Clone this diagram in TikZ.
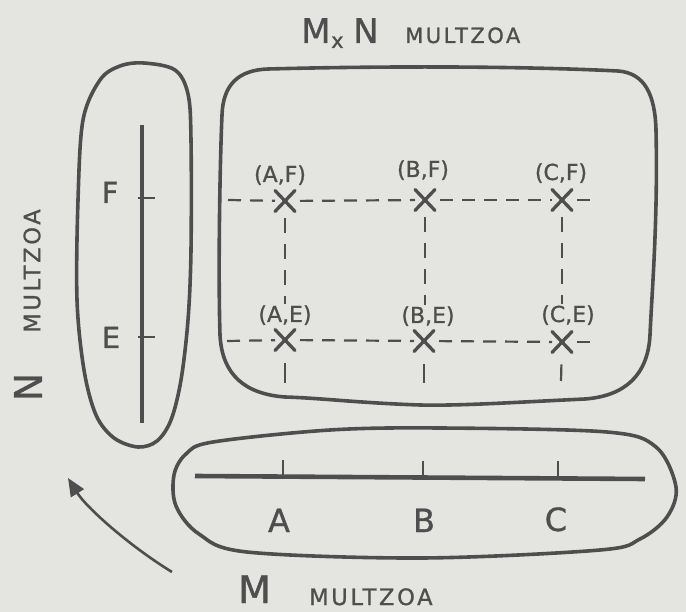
\documentclass[tikz,border=0pt]{standalone}
\usepackage{fontspec}
\setmainfont{DejaVu Sans}
\newfontfamily\inkf[FakeBold=1]{DejaVu Sans}
\newfontfamily\spaced[LetterSpace=12,FakeBold=1]{DejaVu Sans}
\usetikzlibrary{arrows.meta,shapes.misc}
\definecolor{ink}{RGB}{78,78,78}
\definecolor{paper}{RGB}{228,228,225}
\tikzset{
  outline/.style={draw=ink, line width=3.6pt, line join=round},
  axisline/.style={draw=ink, line width=4pt},
  tickline/.style={draw=ink, line width=2pt},
  hdashes/.style={draw=ink, line width=2.2pt, dash pattern=on 13pt off 9pt, dash phase=17pt},
  vdashes/.style={draw=ink, line width=2.2pt, dash pattern=on 15pt off 11pt, dash phase=19pt},
  xpt/.style={cross out, draw=ink, line width=3.3pt, line cap=round, minimum width=14pt, minimum height=15pt, inner sep=0pt, outer sep=3pt},
  pairlbl/.style={text=ink, font=\inkf\fontsize{22}{22}\selectfont, inner sep=1pt, anchor=base},
  biglbl/.style={text=ink, font=\inkf\fontsize{34}{34}\selectfont, inner sep=0pt},
  hugelbl/.style={text=ink, font=\inkf\fontsize{38}{38}\selectfont, inner sep=0pt},
  setlbl/.style={text=ink, font=\spaced\fontsize{21}{21}\selectfont, inner sep=0pt},
  setlblb/.style={text=ink, font=\spaced\fontsize{22.5}{22.5}\selectfont, inner sep=0pt},
  axlbl/.style={text=ink, font=\inkf\fontsize{29}{29}\selectfont, inner sep=0pt, anchor=base},
  ablbl/.style={text=ink, font=\inkf\fontsize{32}{32}\selectfont, inner sep=0pt, anchor=base},
  arrowline/.style={draw=ink, line width=2.6pt, -{Triangle[length=18pt,width=15pt]}}
}
\begin{document}
\begin{tikzpicture}[x=1pt,y=-1pt]
\fill[paper] (0,0) rectangle (686,612);
\useasboundingbox (0,0) rectangle (686,612);

% title
\node[biglbl, anchor=base west] (tM) at (301,43) {M};
\node[text=ink, font=\inkf\fontsize{21}{21}\selectfont, inner sep=0pt, anchor=base west] (tx) at (331,48) {x};
\node[biglbl, anchor=base west] (tN) at (353,43) {N};
\node[setlbl, anchor=base west] (tmult) at (405,43) {MULTZOA};

% M x N set outline
\draw[outline] (222,115) .. controls (223,85) and (238,70) .. (268,69)
  .. controls (380,66) and (520,66) .. (618,71)
  .. controls (645,73) and (655,95) .. (656,130)
  .. controls (658,220) and (652,290) .. (650,335)
  .. controls (648,375) and (625,396) .. (585,399)
  .. controls (520,402) and (460,406) .. (420,405)
  .. controls (360,403) and (320,398) .. (285,397)
  .. controls (245,394) and (222,375) .. (220,335)
  .. controls (218,270) and (220,160) .. (222,115) -- cycle;

% N set outline
\draw[outline] plot[smooth cycle, tension=0.55] coordinates {
  (144,63) (175,70) (188,94) (191,140) (191,250) (188,320) (181,380)
  (171,420) (157,441) (138,447) (114,438) (96,415) (84,370) (77,300)
  (78,200) (83,120) (100,80) (120,66)};

% M set outline
\draw[outline] plot[smooth cycle, tension=0.55] coordinates {
  (213,442) (330,430) (440,428) (607,432) (656,447) (676,487) (667,517)
  (640,539) (600,550) (422,558) (247,552) (199,534) (176,506) (174,475)
  (186,454)};

% N axis
\coordinate (vT) at (142,125);
\coordinate (vB) at (142,423);
\draw[axisline] (vT) -- (vB);
\coordinate (fT1) at (138,198);
\coordinate (fT2) at (155,198);
\coordinate (eT1) at (138,337);
\coordinate (eT2) at (155,337);
\draw[tickline] (fT1) -- (fT2);
\draw[tickline] (eT1) -- (eT2);
\node[axlbl] (lF) at (110,203) {F};
\node[axlbl] (lE) at (111,348) {E};

% M axis
\coordinate (hL) at (195,476);
\coordinate (hR) at (645,479);
\draw[axisline, line width=4.6pt] (hL) -- (hR);
\coordinate (aT1) at (283,460);
\coordinate (aT2) at (283,477);
\coordinate (bT1) at (423,461);
\coordinate (bT2) at (423,477);
\coordinate (cT1) at (558,461);
\coordinate (cT2) at (558,478);
\draw[tickline] (aT1) -- (aT2);
\draw[tickline] (bT1) -- (bT2);
\draw[tickline] (cT1) -- (cT2);
\node[ablbl] (lA) at (279,532) {A};
\node[ablbl] (lB) at (424,532) {B};
\node[ablbl] (lC) at (556,531) {C};

% product points
\node[xpt] (af) at (285,201) {};
\node[xpt] (bf) at (425,200) {};
\node[xpt] (cf) at (562,200) {};
\node[xpt] (ae) at (285,340) {};
\node[xpt] (be) at (424,341) {};
\node[xpt] (ce) at (562,342) {};

\node[pairlbl] (laf) at (280,182) {(A,F)};
\node[pairlbl] (lbf) at (423,177) {(B,F)};
\node[pairlbl] (lcf) at (561,180) {(C,F)};
\node[pairlbl] (lae) at (285,322) {(A,E)};
\node[pairlbl] (lbe) at (428,323) {(B,E)};
\node[pairlbl] (lce) at (568,322) {(C,E)};

% dashed grid
\coordinate (fL) at (228,200);
\coordinate (fR) at (596,200);
\coordinate (eL) at (227,341);
\coordinate (eR) at (594,342);
\draw[hdashes, dash phase=0pt] (fL) -- (af);
\draw[hdashes] (af) -- (bf);
\draw[hdashes] (bf) -- (cf);
\draw[hdashes] (cf) -- (fR);
\draw[hdashes, dash phase=0pt] (eL) -- (ae);
\draw[hdashes] (ae) -- (be);
\draw[hdashes] (be) -- (ce);
\draw[hdashes] (ce) -- (eR);
\draw[vdashes] (af) -- (lae);
\draw[vdashes] (bf) -- (lbe.north -| bf);
\draw[vdashes] (cf) -- (lce.north -| cf);
\coordinate (aD) at (285,383);
\coordinate (bD) at (424,383);
\coordinate (cD) at (561,381);
\draw[vdashes, dash pattern=on 0pt off 13pt on 30pt off 10pt, dash phase=0pt] (ae) -- (aD);
\draw[vdashes, dash pattern=on 0pt off 13pt on 30pt off 10pt, dash phase=0pt] (be) -- (bD);
\draw[vdashes, dash pattern=on 0pt off 12pt on 30pt off 10pt, dash phase=0pt] (ce) -- (cD);

% N set label (rotated)
\node[hugelbl, rotate=90] (nN) at (28,387) {N};
\node[setlblb, rotate=90] (nmult) at (32,271) {MULTZOA};

% M set label
\node[hugelbl, anchor=base west] (mM) at (238,603) {M};
\node[setlblb, anchor=base west] (mmult) at (309,605) {MULTZOA};

% arrow
\coordinate (arT) at (172,572);
\coordinate (arH) at (68,478);
\draw[arrowline] (arT) .. controls (128,545) and (86,507) .. (arH);
\end{tikzpicture}
\end{document}
